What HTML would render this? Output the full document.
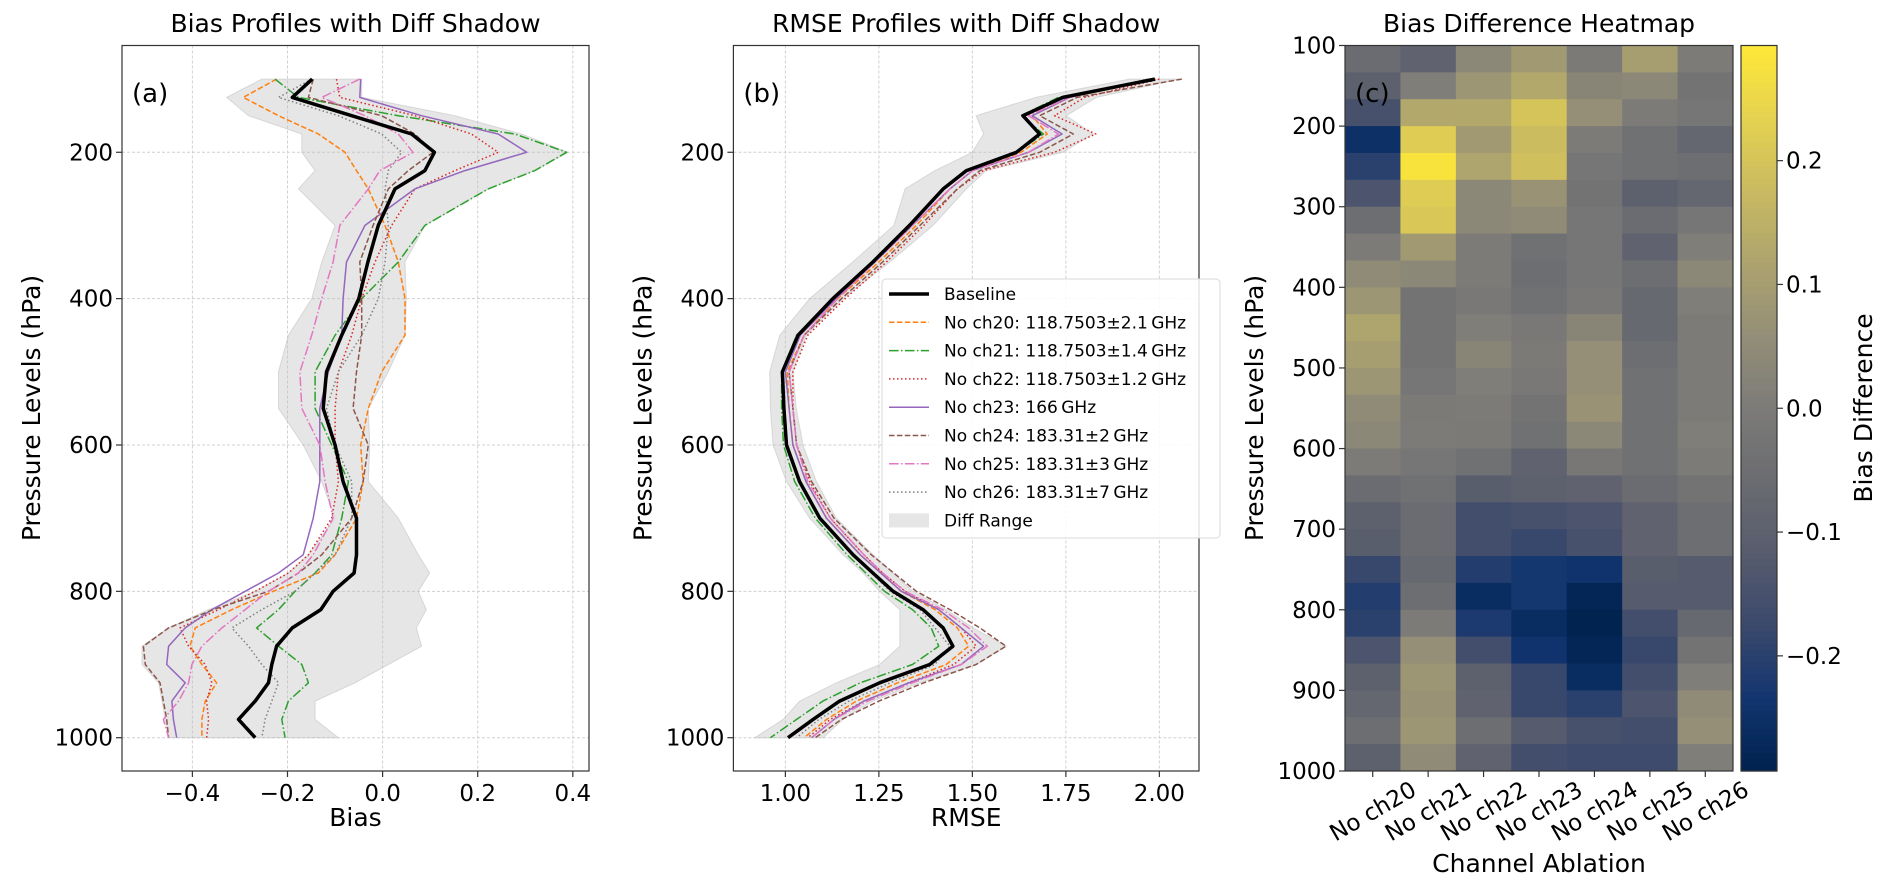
<!DOCTYPE html>
<html><head><meta charset="utf-8">
<style>
html,body{margin:0;padding:0;background:#fff;}
svg{display:block;font-family:"DejaVu Sans","Liberation Sans",sans-serif;}
</style></head>
<body>
<svg id="fig" width="1892" height="892" viewBox="0 0 1892 892" xmlns="http://www.w3.org/2000/svg"></svg>
<script>
// ---------- data ----------
const levels = [100,125,150,175,200,225,250,300,350,400,450,500,550,600,650,700,750,775,800,825,850,875,900,925,950,975,1000];
const seriesNames = ["Baseline","No ch20: 118.7503\u00b12.1\u2009GHz","No ch21: 118.7503\u00b11.4\u2009GHz","No ch22: 118.7503\u00b11.2\u2009GHz","No ch23: 166\u2009GHz","No ch24: 183.31\u00b12\u2009GHz","No ch25: 183.31\u00b13\u2009GHz","No ch26: 183.31\u00b17\u2009GHz"];
// Bias profiles
const biasBaseline = [-0.148,-0.190,-0.065,0.061,0.109,0.089,0.026,-0.009,-0.031,-0.050,-0.086,-0.118,-0.125,-0.100,-0.083,-0.055,-0.055,-0.060,-0.104,-0.130,-0.190,-0.223,-0.233,-0.240,-0.268,-0.303,-0.268];
const biasCh20 = [-0.223,-0.293,-0.219,-0.135,-0.079,-0.055,-0.030,0.005,0.033,0.047,0.047,-0.002,-0.030,-0.046,-0.041,-0.055,-0.100,-0.135,-0.230,-0.317,-0.394,-0.405,-0.380,-0.349,-0.373,-0.380,-0.380];
const biasCh21 = [-0.226,-0.177,0.033,0.278,0.387,0.320,0.222,0.089,0.033,-0.044,-0.100,-0.142,-0.142,-0.107,-0.072,-0.086,-0.107,-0.142,-0.184,-0.219,-0.265,-0.219,-0.170,-0.156,-0.198,-0.212,-0.205];
const biasCh22 = [-0.097,-0.090,0.068,0.187,0.243,0.152,0.068,0.019,-0.016,-0.044,-0.065,-0.093,-0.100,-0.100,-0.093,-0.107,-0.156,-0.198,-0.268,-0.345,-0.426,-0.408,-0.373,-0.359,-0.370,-0.366,-0.370];
const biasCh23 = [-0.046,-0.048,0.082,0.243,0.303,0.173,0.068,-0.037,-0.076,-0.083,-0.086,-0.114,-0.132,-0.132,-0.132,-0.146,-0.167,-0.219,-0.289,-0.359,-0.415,-0.450,-0.454,-0.415,-0.443,-0.440,-0.433];
const biasCh24 = [-0.146,-0.156,-0.002,0.068,0.106,0.054,0.012,-0.020,-0.048,-0.044,-0.044,-0.055,-0.062,-0.030,-0.041,-0.065,-0.128,-0.177,-0.240,-0.356,-0.450,-0.503,-0.499,-0.468,-0.461,-0.454,-0.450];
const biasCh25 = [-0.048,-0.128,-0.037,0.033,0.064,-0.006,-0.030,-0.090,-0.104,-0.128,-0.149,-0.174,-0.170,-0.132,-0.121,-0.104,-0.146,-0.177,-0.240,-0.289,-0.338,-0.380,-0.401,-0.408,-0.429,-0.461,-0.450];
const biasCh26 = [-0.149,-0.219,-0.093,-0.002,0.040,0.012,0.005,0.012,0.005,-0.009,-0.044,-0.093,-0.118,-0.100,-0.065,-0.065,-0.100,-0.142,-0.184,-0.254,-0.317,-0.282,-0.254,-0.219,-0.233,-0.247,-0.254];
const biasShadeLo = [-0.254,-0.328,-0.282,-0.170,-0.170,-0.142,-0.177,-0.100,-0.128,-0.149,-0.198,-0.219,-0.219,-0.167,-0.128,-0.100,-0.156,-0.198,-0.268,-0.366,-0.450,-0.506,-0.506,-0.471,-0.464,-0.457,-0.450];
const biasShadeHi = [-0.044,-0.044,0.152,0.292,0.390,0.320,0.222,0.089,0.047,0.050,0.047,0.012,-0.030,-0.027,-0.030,0.033,0.075,0.099,0.075,0.092,0.071,0.082,0.012,-0.058,-0.142,-0.142,-0.093];
// RMSE profiles
const rmseBaseline = [1.988,1.742,1.635,1.680,1.618,1.484,1.422,1.332,1.234,1.127,1.034,0.992,0.996,1.003,1.038,1.092,1.181,1.234,1.288,1.368,1.422,1.448,1.386,1.252,1.145,1.074,1.007];
const rmseCh20 = [1.99,1.76,1.66,1.70,1.63,1.50,1.44,1.35,1.25,1.14,1.05,1.005,1.01,1.02,1.055,1.11,1.20,1.255,1.31,1.40,1.46,1.49,1.43,1.30,1.19,1.11,1.05];
const rmseCh21 = [1.98,1.73,1.63,1.69,1.62,1.48,1.42,1.33,1.23,1.125,1.03,0.99,0.99,0.995,1.025,1.08,1.165,1.215,1.265,1.34,1.39,1.41,1.34,1.20,1.10,1.03,0.96];
const rmseCh22 = [2.00,1.80,1.72,1.83,1.72,1.53,1.46,1.37,1.27,1.16,1.06,1.02,1.02,1.03,1.065,1.12,1.21,1.26,1.32,1.41,1.47,1.51,1.45,1.33,1.21,1.12,1.06];
const rmseCh23 = [1.98,1.76,1.66,1.74,1.65,1.50,1.44,1.34,1.24,1.135,1.04,1.00,1.01,1.02,1.055,1.11,1.20,1.255,1.31,1.41,1.47,1.53,1.47,1.33,1.21,1.13,1.07];
const rmseCh24 = [2.06,1.78,1.68,1.77,1.68,1.52,1.46,1.36,1.26,1.15,1.05,1.01,1.02,1.03,1.07,1.13,1.23,1.29,1.35,1.44,1.52,1.59,1.51,1.37,1.25,1.15,1.08];
const rmseCh25 = [1.98,1.76,1.65,1.73,1.65,1.50,1.44,1.34,1.24,1.14,1.05,1.01,1.02,1.03,1.06,1.12,1.21,1.26,1.32,1.42,1.49,1.54,1.47,1.34,1.22,1.13,1.07];
const rmseCh26 = [1.97,1.74,1.64,1.68,1.62,1.48,1.42,1.33,1.23,1.125,1.03,0.99,0.995,1.00,1.035,1.09,1.18,1.23,1.28,1.36,1.40,1.44,1.40,1.28,1.17,1.09,1.03];
const rmseShadeLo = [1.92,1.67,1.51,1.53,1.50,1.40,1.32,1.29,1.18,1.065,0.985,0.958,0.96,0.967,1.003,1.065,1.154,1.208,1.252,1.306,1.306,1.306,1.252,1.136,1.038,0.994,0.918];
const rmseShadeHi = [2.054,1.832,1.751,1.823,1.742,1.537,1.484,1.395,1.279,1.154,1.056,1.020,1.029,1.047,1.083,1.136,1.234,1.288,1.341,1.430,1.502,1.591,1.511,1.359,1.234,1.154,1.101];
// Heatmap
const heatCols = ["No ch20","No ch21","No ch22","No ch23","No ch24","No ch25","No ch26"];
const heatVals = [
[-0.06,-0.09,0.04,0.09,-0.005,0.10,0.00],
[-0.10,0.01,0.08,0.13,0.03,0.04,-0.03],
[-0.15,0.13,0.13,0.20,0.06,0.00,-0.02],
[-0.25,0.22,0.09,0.18,0.00,-0.04,-0.08],
[-0.20,0.28,0.12,0.19,-0.02,-0.04,-0.05],
[-0.14,0.22,0.04,0.07,-0.03,-0.10,-0.08],
[-0.05,0.21,0.04,0.05,-0.02,-0.06,-0.02],
[0.00,0.09,0.00,-0.04,-0.02,-0.09,0.01],
[0.05,0.04,0.00,-0.05,-0.02,-0.05,0.04],
[0.08,-0.03,-0.01,-0.04,-0.01,-0.07,0.01],
[0.12,-0.03,0.01,-0.01,0.03,-0.07,0.00],
[0.10,-0.03,0.03,-0.005,0.06,-0.05,0.00],
[0.08,-0.02,0.01,-0.01,0.06,-0.04,0.00],
[0.05,-0.005,0.00,-0.03,0.07,-0.04,0.00],
[0.04,0.00,-0.005,-0.04,0.04,-0.04,0.01],
[0.00,-0.02,-0.04,-0.09,-0.015,-0.04,0.00],
[-0.06,-0.04,-0.11,-0.10,-0.09,-0.06,-0.03],
[-0.10,-0.06,-0.16,-0.15,-0.14,-0.09,-0.05],
[-0.11,-0.06,-0.16,-0.18,-0.15,-0.09,-0.05],
[-0.18,-0.07,-0.21,-0.23,-0.24,-0.11,-0.12],
[-0.21,-0.05,-0.26,-0.23,-0.28,-0.12,-0.12],
[-0.20,0.00,-0.22,-0.26,-0.29,-0.16,-0.07],
[-0.14,0.06,-0.16,-0.24,-0.28,-0.18,-0.03],
[-0.10,0.08,-0.10,-0.18,-0.26,-0.16,0.01],
[-0.08,0.07,-0.09,-0.18,-0.20,-0.14,0.05],
[-0.05,0.08,-0.05,-0.12,-0.15,-0.16,0.06],
[-0.10,0.05,-0.09,-0.16,-0.17,-0.17,0.01]];
const heatYTicks = [100,200,300,400,500,600,700,800,900,1000];
const biasXTicks = [-0.4,-0.2,0.0,0.2,0.4];
const rmseXTicks = [1.00,1.25,1.50,1.75,2.00];
const pTicks = [200,400,600,800,1000];
const cbarTicks = [-0.2,-0.1,0.0,0.1,0.2];

// ---------- helpers ----------
const NS = "http://www.w3.org/2000/svg";
const svg = document.getElementById('fig');
function mk(tag, attrs, parent, text){
  const e = document.createElementNS(NS, tag);
  for (const k in attrs) e.setAttribute(k, attrs[k]);
  if (text !== undefined) e.textContent = text;
  (parent || svg).appendChild(e);
  return e;
}
const styles = [
  {c:"#000000", w:3.5, d:""},
  {c:"#ff7f0e", w:1.5, d:"5.5,2.4"},
  {c:"#2ca02c", w:1.5, d:"9.6,2.4,1.5,2.4"},
  {c:"#d62728", w:1.5, d:"1.5,2.5"},
  {c:"#9467bd", w:1.5, d:""},
  {c:"#8c564b", w:1.5, d:"5.5,2.4"},
  {c:"#e377c2", w:1.5, d:"9.6,2.4,1.5,2.4"},
  {c:"#7f7f7f", w:1.5, d:"1.5,2.5"}];
const FS = 23;

const Y0 = 45.5, Y1 = 771;
const P_TOP = 54.1, P_BOT = 1045.5;
function yP(p){ return Y0 + (p - P_TOP) / (P_BOT - P_TOP) * (Y1 - Y0); }

function profilePanel(opt){
  const g = mk('g', {}, svg);
  
  
  const xS = v => opt.x0 + (v - opt.vmin) / (opt.vmax - opt.vmin) * (opt.x1 - opt.x0);
  opt.xticks.forEach(t => {
    const l = mk('line', {x1:xS(t), x2:xS(t), y1:Y0, y2:Y1, stroke:"#d0d0d0", 'stroke-width':1, 'stroke-dasharray':"3,2"}, g);
    
    
  });
  pTicks.forEach(t => {
    const l = mk('line', {x1:opt.x0, x2:opt.x1, y1:yP(t), y2:yP(t), stroke:"#d0d0d0", 'stroke-width':1, 'stroke-dasharray':"3,2"}, g);
    
    
  });
  let pts = [];
  levels.forEach((p,i) => pts.push(xS(opt.lo[i]) + "," + yP(p)));
  for (let i = levels.length - 1; i >= 0; i--) pts.push(xS(opt.hi[i]) + "," + yP(levels[i]));
  const sh = mk('polygon', {points:pts.join(' '), fill:"#bdbdbd", 'fill-opacity':0.38, stroke:"#bdbdbd", 'stroke-opacity':0.5, 'stroke-width':1}, g);
  
  
  const order = [1,2,3,4,5,6,7,0];
  order.forEach(si => {
    const arr = opt.series[si];
    const d = levels.map((p,i) => (i ? "L" : "M") + xS(arr[i]).toFixed(1) + "," + yP(p).toFixed(1)).join(' ');
    const st = styles[si];
    const path = mk('path', {d:d, fill:"none", stroke:st.c, 'stroke-width':st.w, 'stroke-dasharray':st.d, 'stroke-linejoin':"round"}, g);
    
    
  });
  const fr = mk('rect', {x:opt.x0, y:Y0, width:opt.x1 - opt.x0, height:Y1 - Y0, fill:"none", stroke:"#333", 'stroke-width':1.2}, g);
  
  
  opt.xticks.forEach((t,i) => {
    const x = xS(t);
    const tk = mk('line', {x1:x, x2:x, y1:Y1, y2:Y1 + 6, stroke:"#333", 'stroke-width':1.2}, g);
    
    
    const tl = mk('text', {x:x, y:Y1 + 30, 'text-anchor':"middle", 'font-size':FS, fill:"#000"}, g, opt.xlabels[i]);
    
    
  });
  pTicks.forEach(t => {
    const y = yP(t);
    const tk = mk('line', {x1:opt.x0 - 6, x2:opt.x0, y1:y, y2:y, stroke:"#333", 'stroke-width':1.2}, g);
    
    
    const tl = mk('text', {x:opt.x0 - 9, y:y + 8, 'text-anchor':"end", 'font-size':FS, fill:"#000"}, g, String(t));
    
    
  });
  const cx = (opt.x0 + opt.x1) / 2;
  const title = mk('text', {x:cx, y:32, 'text-anchor':"middle", 'font-size':25, fill:"#000"}, g, opt.title);
  
  
  const xl = mk('text', {x:cx, y:826, 'text-anchor':"middle", 'font-size':25, fill:"#000"}, g, opt.xlabel);
  
  
  const yl = mk('text', {x:0, y:0, 'text-anchor':"middle", 'font-size':25, fill:"#000", transform:"translate(" + (opt.x0 - 82) + ",408) rotate(-90)"}, g, "Pressure Levels (hPa)");
  
  
  const pl = mk('text', {x:opt.x0 + 10, y:102, 'font-size':26, fill:"#000"}, g, opt.tag);
  
  
  return {g, xS};
}

profilePanel({name:'bias-panel', prefix:'bias', x0:122, x1:589, vmin:-0.548, vmax:0.434,
  xticks:biasXTicks, xlabels:["\u22120.4","\u22120.2","0.0","0.2","0.4"],
  series:[biasBaseline,biasCh20,biasCh21,biasCh22,biasCh23,biasCh24,biasCh25,biasCh26],
  lo:biasShadeLo, hi:biasShadeHi, title:"Bias Profiles with Diff Shadow", xlabel:"Bias", tag:"(a)"});

profilePanel({name:'rmse-panel', prefix:'rmse', x0:733.4, x1:1199, vmin:0.861, vmax:2.106,
  xticks:rmseXTicks, xlabels:["1.00","1.25","1.50","1.75","2.00"],
  series:[rmseBaseline,rmseCh20,rmseCh21,rmseCh22,rmseCh23,rmseCh24,rmseCh25,rmseCh26],
  lo:rmseShadeLo, hi:rmseShadeHi, title:"RMSE Profiles with Diff Shadow", xlabel:"RMSE", tag:"(b)"});

// legend
(function(){
  const lg = mk('g', {}, svg);
  
  
  const bx = mk('rect', {x:882, y:279, width:338, height:259, rx:4, fill:"#fff", 'fill-opacity':0.85, stroke:"#d8d8d8", 'stroke-width':1}, lg);
  
  
  seriesNames.forEach((nm, i) => {
    const y = 294 + i * 28.3;
    const st = styles[i];
    const h = mk('line', {x1:889, x2:929, y1:y, y2:y, stroke:st.c, 'stroke-width':st.w, 'stroke-dasharray':st.d}, lg);
    
    
    const t = mk('text', {x:944, y:y + 6, 'font-size':17, fill:"#000"}, lg, nm);
    
    
  });
  const y = 294 + 8 * 28.3;
  const sw = mk('rect', {x:889, y:y - 7, width:40, height:14, fill:"#bdbdbd", 'fill-opacity':0.38}, lg);
  
  
  const t = mk('text', {x:944, y:y + 6, 'font-size':17, fill:"#000"}, lg, "Diff Range");
  
  
})();

// ---------- heatmap ----------
const cividisStops = [[0,0,34,78],[0.1,18,53,112],[0.2,59,73,108],[0.3,87,92,109],[0.4,107,108,113],[0.5,124,123,120],[0.6,148,142,119],[0.7,173,163,110],[0.8,201,186,97],[0.9,229,210,80],[1,254,232,56]];
function cividis(t){
  t = Math.max(0, Math.min(1, t));
  for (let i = 1; i < cividisStops.length; i++){
    const a = cividisStops[i-1], b = cividisStops[i];
    if (t <= b[0]){
      const f = (t - a[0]) / (b[0] - a[0]);
      return "rgb(" + [1,2,3].map(k => Math.round(a[k] + f * (b[k] - a[k]))).join(',') + ")";
    }
  }
  return "rgb(254,232,56)";
}
const HX0 = 1345, HX1 = 1733, VMIN = -0.293, VMAX = 0.293;
(function(){
  const g = mk('g', {}, svg);
  
  
  const nR = heatVals.length, nC = heatCols.length;
  const cw = (HX1 - HX0) / nC, rh = (Y1 - Y0) / nR;
  heatVals.forEach((row, r) => row.forEach((v, c) => {
    const cell = mk('rect', {x:(HX0 + c * cw).toFixed(2), y:(Y0 + r * rh).toFixed(2), width:(cw + 0.5).toFixed(2), height:(rh + 0.5).toFixed(2), fill:cividis((v - VMIN) / (VMAX - VMIN))}, g);
    
    
  }));
  const fr = mk('rect', {x:HX0, y:Y0, width:HX1 - HX0, height:Y1 - Y0, fill:"none", stroke:"#333", 'stroke-width':1.2}, g);
  
  
  heatYTicks.forEach(t => {
    const y = Y0 + (t - 100) / 900 * (Y1 - Y0);
    const tk = mk('line', {x1:HX0 - 6, x2:HX0, y1:y, y2:y, stroke:"#333", 'stroke-width':1.2}, g);
    
    
    const tl = mk('text', {x:HX0 - 9, y:y + 8, 'text-anchor':"end", 'font-size':FS, fill:"#000"}, g, String(t));
    
    
  });
  heatCols.forEach((nm, c) => {
    const x = HX0 + (c + 0.5) * cw;
    const tk = mk('line', {x1:x, x2:x, y1:Y1, y2:Y1 + 6, stroke:"#333", 'stroke-width':1.2}, g);
    
    
    const tl = mk('text', {x:0, y:0, 'text-anchor':"middle", 'font-size':FS, fill:"#000", transform:"translate(" + (x + 4) + "," + (Y1 + 47) + ") rotate(-30)"}, g, nm);
    
    
  });
  const cx = (HX0 + HX1) / 2;
  const title = mk('text', {x:cx, y:32, 'text-anchor':"middle", 'font-size':25, fill:"#000"}, g, "Bias Difference Heatmap");
  
  
  const xl = mk('text', {x:cx, y:872, 'text-anchor':"middle", 'font-size':25, fill:"#000"}, g, "Channel Ablation");
  
  
  const yl = mk('text', {x:0, y:0, 'text-anchor':"middle", 'font-size':25, fill:"#000", transform:"translate(" + (HX0 - 82) + ",408) rotate(-90)"}, g, "Pressure Levels (hPa)");
  
  
  const pl = mk('text', {x:HX0 + 10, y:102, 'font-size':26, fill:"#000"}, g, "(c)");
  
  
})();

// colorbar
(function(){
  const g = mk('g', {}, svg);
  
  
  const CX0 = 1741, CX1 = 1777, N = 120;
  const h = (Y1 - Y0) / N;
  for (let i = 0; i < N; i++){
    const t = 1 - (i + 0.5) / N;
    mk('rect', {x:CX0, y:(Y0 + i * h).toFixed(2), width:CX1 - CX0, height:(h + 0.6).toFixed(2), fill:cividis(t)}, g);
  }
  const fr = mk('rect', {x:CX0, y:Y0, width:CX1 - CX0, height:Y1 - Y0, fill:"none", stroke:"#333", 'stroke-width':1.2}, g);
  
  
  cbarTicks.forEach(t => {
    const y = Y1 - (t - VMIN) / (VMAX - VMIN) * (Y1 - Y0);
    const tk = mk('line', {x1:CX1, x2:CX1 + 6, y1:y, y2:y, stroke:"#333", 'stroke-width':1.2}, g);
    
    
    const lab = t < 0 ? "\u2212" + Math.abs(t).toFixed(1) : t.toFixed(1);
    const tl = mk('text', {x:CX1 + 9, y:y + 8, 'font-size':FS, fill:"#000"}, g, lab);
    
    
  });
  const cl = mk('text', {x:0, y:0, 'text-anchor':"middle", 'font-size':25, fill:"#000", transform:"translate(1872,408) rotate(-90)"}, g, "Bias Difference");
  
  
})();
</script>
</body></html>
